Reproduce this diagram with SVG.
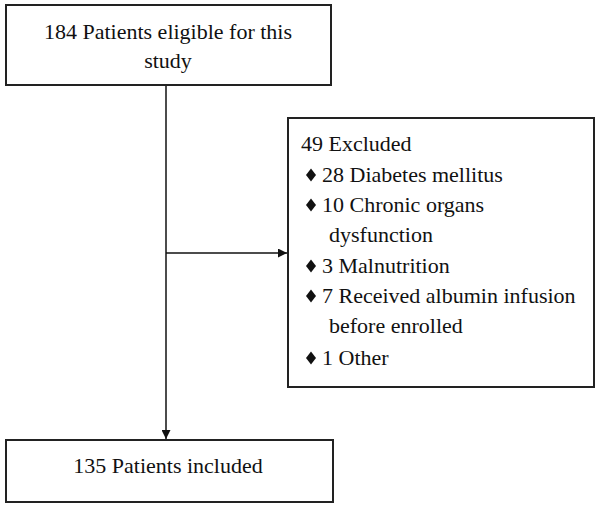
<svg xmlns="http://www.w3.org/2000/svg" width="600" height="506" viewBox="0 0 600 506">
<defs>
<marker id="ah" viewBox="0 0 10 10" refX="10" refY="5" markerWidth="9" markerHeight="9" markerUnits="userSpaceOnUse" orient="auto">
<path d="M0,0 L10,5 L0,10 z" fill="#111"/>
</marker>
<path id="dm" d="M0,-6.5 L5,0 L0,6.5 L-5,0 z" fill="#111"/>
</defs>
<rect width="600" height="506" fill="#fff"/>
<g id="connectors" stroke="#111" stroke-width="1.5" fill="none">
<line x1="166" y1="85" x2="166" y2="439" marker-end="url(#ah)"/>
<line x1="166" y1="253" x2="287" y2="253" marker-end="url(#ah)"/>
</g>
<g id="eligible">
<rect x="6" y="5" width="325" height="80" fill="#fff" stroke="#222" stroke-width="2"/>
<text x="168" y="39" text-anchor="middle" font-family="Liberation Serif" font-size="22" fill="#111">184 Patients eligible for this</text>
<text x="168" y="68" text-anchor="middle" font-family="Liberation Serif" font-size="22" fill="#111">study</text>
</g>
<g id="excluded">
<rect x="288" y="118" width="306" height="269" fill="#fff" stroke="#222" stroke-width="2"/>
<text x="301" y="151" font-family="Liberation Serif" font-size="22" fill="#111">49 Excluded</text>
<use href="#dm" x="311" y="175"/>
<text x="322" y="182" font-family="Liberation Serif" font-size="22" fill="#111">28 Diabetes mellitus</text>
<use href="#dm" x="311" y="205"/>
<text x="322" y="212" font-family="Liberation Serif" font-size="22" fill="#111">10 Chronic organs</text>
<text x="329" y="242" font-family="Liberation Serif" font-size="22" fill="#111">dysfunction</text>
<use href="#dm" x="311" y="266"/>
<text x="322" y="273" font-family="Liberation Serif" font-size="22" fill="#111">3 Malnutrition</text>
<use href="#dm" x="311" y="296"/>
<text x="322" y="303" font-family="Liberation Serif" font-size="22" fill="#111">7 Received albumin infusion</text>
<text x="329" y="333" font-family="Liberation Serif" font-size="22" fill="#111">before enrolled</text>
<use href="#dm" x="311" y="358"/>
<text x="322" y="365" font-family="Liberation Serif" font-size="22" fill="#111">1 Other</text>
</g>
<g id="included">
<rect x="6" y="440" width="327" height="62" fill="#fff" stroke="#222" stroke-width="2"/>
<text x="168" y="473" text-anchor="middle" font-family="Liberation Serif" font-size="22" fill="#111">135 Patients included</text>
</g>
</svg>
